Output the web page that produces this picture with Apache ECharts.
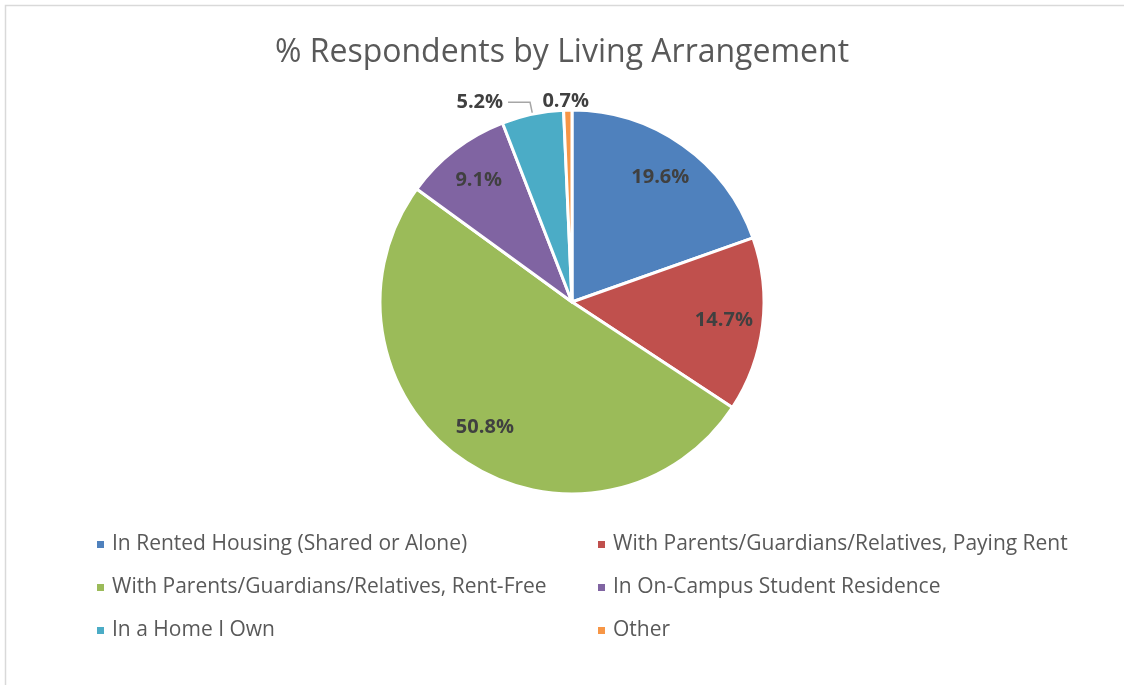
<!DOCTYPE html>
<html lang="en">
<head>
    <meta charset="UTF-8">
    <title>% Respondents by Living Arrangement</title>
    <style>
        html, body { margin: 0; padding: 0; background: #fff; }
        #container { width: 1124px; height: 685px; }
    </style>
</head>
<body>
<div id="container"></div>
<script src="https://cdn.jsdelivr.net/npm/echarts@6/dist/echarts.min.js"></script>
<script type="text/javascript">
    var categories = [
        'In Rented Housing (Shared or Alone)',
        'With Parents/Guardians/Relatives, Paying Rent',
        'With Parents/Guardians/Relatives, Rent-Free',
        'In On-Campus Student Residence',
        'In a Home I Own',
        'Other'
    ];
    var shares = [19.6, 14.7, 50.8, 9.1, 5.2, 0.7];
    var colors = ['#4F81BD', '#C0504D', '#9BBB59', '#8064A2', '#4BACC6', '#F79646'];
    var outsideLabels = [4, 5];   // small slices labelled outside the pie

    var font = 'Open Sans';

    var pieData = categories.map(function (name, i) {
        return { name: name, value: shares[i], itemStyle: { color: colors[i] } };
    });

    // same slices again, transparent, only to carry the labels further out
    var labelData = categories.map(function (name, i) {
        var item = { name: name, value: shares[i] };
        if (outsideLabels.indexOf(i) >= 0) {
            item.label = { position: 'outside' };
            item.labelLine = i === 5 ? { show: false, length: 3, length2: 0 } : { show: true, length: 12, length2: 22 };
        }
        return item;
    });

    function legendCol(left, names) {
        return {
            orient: 'vertical',
            left: left,
            top: 529,
            itemWidth: 9,
            itemHeight: 9,
            itemGap: 22,
            icon: 'rect',
            data: names,
            textStyle: { fontFamily: font, fontSize: 21, color: '#595959', padding: [0, 0, 0, 2] }
        };
    }

    var chart = echarts.init(document.getElementById('container'));
    chart.setOption({
        animation: false,
        color: colors,
        graphic: [{
            type: 'rect',
            shape: { x: 5.5, y: 5.5, width: 1200, height: 800 },
            style: { fill: 'none', stroke: '#d9d9d9', lineWidth: 1.5 },
            silent: true
        }],
        title: {
            text: '% Respondents by Living Arrangement',
            left: 'center',
            top: 32,
            textStyle: { fontFamily: font, fontSize: 32, fontWeight: 'normal', color: '#595959' }
        },
        legend: [
            legendCol(90, [categories[0], categories[2], categories[4]]),
            legendCol(591, [categories[1], categories[3], categories[5]])
        ],
        series: [{
            name: 'slices',
            type: 'pie',
            center: [572, 302],
            radius: [0, 192],
            startAngle: 90,
            clockwise: true,
            label: { show: false },
            labelLine: { show: false },
            itemStyle: { borderColor: '#fff', borderWidth: 3 },
            emphasis: { disabled: true },
            data: pieData
        }, {
            name: 'labels',
            type: 'pie',
            center: [572, 302],
            radius: [108, 192],
            startAngle: 90,
            clockwise: true,
            silent: true,
            avoidLabelOverlap: false,
            legendHoverLink: false,
            itemStyle: { color: 'rgba(0,0,0,0)' },
            label: {
                show: true,
                position: 'inside',
                formatter: function (p) { return p.value.toFixed(1) + '%'; },
                fontFamily: font,
                fontSize: 20,
                fontWeight: 'bold',
                color: '#404040'
            },
            labelLine: { lineStyle: { color: '#a6a6a6', width: 1.5 } },
            labelLayout: function (p) {
                if (p.dataIndex === 5) return { align: 'center', dx: 3, dy: -6 };
            },
            data: labelData
        }]
    });
</script>
</body>
</html>
